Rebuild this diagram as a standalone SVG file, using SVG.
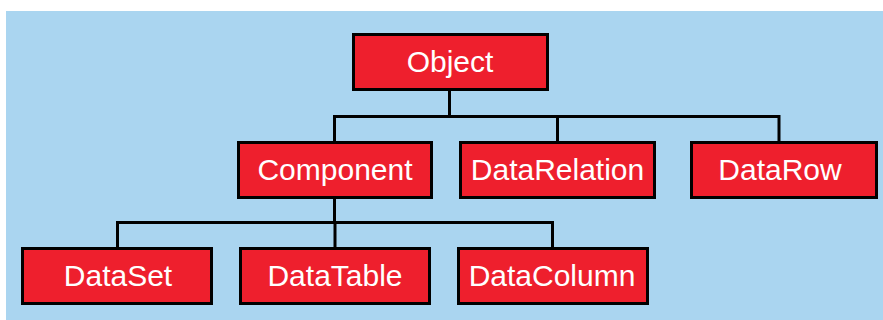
<svg xmlns="http://www.w3.org/2000/svg" width="883" height="320" viewBox="0 0 883 320">
  <style>
    .box rect { fill: #EE1F2D; stroke: #000; stroke-width: 3; }
    .box text { fill: #fff; font-family: "Liberation Sans", Arial, sans-serif; font-size: 30px; text-anchor: middle; }
    .links path { fill: none; stroke: #000; stroke-width: 3; }
  </style>
  <rect x="0" y="0" width="883" height="320" fill="#fff"/>
  <rect x="6" y="11" width="877" height="309" fill="#AAD5F0"/>

  <g class="links">
    <path d="M449.5 91 V116.5 M334.5 141 V116.5 H779 V141 M557.5 116.5 V141"/>
    <path d="M334.5 199 V222.5 M117.5 247 V222.5 H552.5 V247 M335 222.5 V247"/>
  </g>

  <g id="object" class="box">
    <rect x="353.5" y="34.5" width="194" height="55"/>
    <text x="450" y="72">Object</text>
  </g>
  <g id="component" class="box">
    <rect x="238.5" y="142.5" width="193" height="55"/>
    <text x="335" y="180">Component</text>
  </g>
  <g id="datarelation" class="box">
    <rect x="460.5" y="142.5" width="194" height="55"/>
    <text x="557.5" y="180">DataRelation</text>
  </g>
  <g id="datarow" class="box">
    <rect x="691.5" y="142.5" width="185" height="55"/>
    <text x="780" y="180">DataRow</text>
  </g>
  <g id="dataset" class="box">
    <rect x="22.5" y="248.5" width="189" height="55"/>
    <text x="118" y="286">DataSet</text>
  </g>
  <g id="datatable" class="box">
    <rect x="240.5" y="248.5" width="189" height="55"/>
    <text x="335" y="286">DataTable</text>
  </g>
  <g id="datacolumn" class="box">
    <rect x="458.5" y="248.5" width="189" height="55"/>
    <text x="552" y="286">DataColumn</text>
  </g>
</svg>
